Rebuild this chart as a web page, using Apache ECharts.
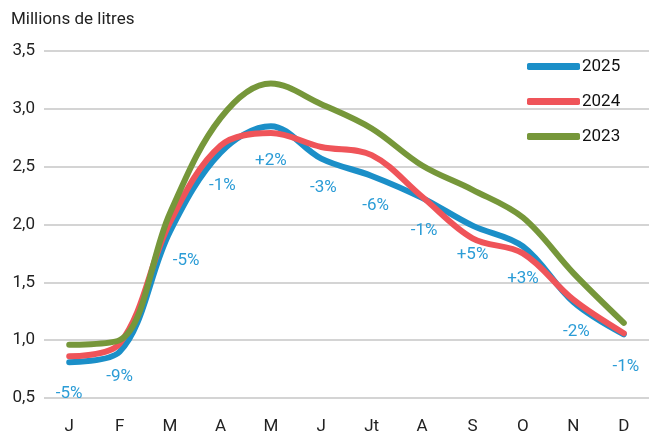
<!DOCTYPE html>
<html>
<head>
<meta charset="utf-8">
<script src="https://cdn.jsdelivr.net/npm/echarts@6/dist/echarts.min.js"></script>
<style>
  html, body { margin: 0; padding: 0; background: #ffffff; }
  #chart { width: 649px; height: 440px; }
</style>
</head>
<body>
<div id="chart"></div>
<script>
const months = ['J', 'F', 'M', 'A', 'M', 'J', 'Jt', 'A', 'S', 'O', 'N', 'D']
const y2025 = [0.81, 0.90, 1.94, 2.62, 2.85, 2.57, 2.42, 2.23, 1.99, 1.81, 1.33, 1.05]
const y2024 = [0.86, 0.97, 2.02, 2.68, 2.79, 2.67, 2.60, 2.24, 1.88, 1.75, 1.35, 1.06]
const y2023 = [0.96, 1.00, 2.10, 2.92, 3.22, 3.04, 2.83, 2.51, 2.30, 2.06, 1.58, 1.15]
const changes = ['-5%', '-9%', '-5%', '-1%', '+2%', '-3%', '-6%', '-1%', '+5%', '+3%', '-2%', '-1%']
const yTicks = [0.5, 1.0, 1.5, 2.0, 2.5, 3.0, 3.5]

const FONT = '"Liberation Sans Narrow", "Roboto", Arial, sans-serif'
// small sideways nudges of the % labels, as in the source chart
const labelShiftX = [0, 0, 16, 2, 0, 2, 4, 2, 0, 0, 3, 2]
const labelShiftY = [2, -4, 0, 3, 5, 0, 0, 3, 0, 3, 0, 3]

const chart = echarts.init(document.getElementById('chart'))

function lineSeries(name, data, color, labels) {
  const s = {
    name,
    type: 'line',
    smooth: 0.35,
    symbol: 'circle',
    symbolSize: 0,
    showSymbol: true,
    data,
    lineStyle: { width: 6, color, cap: 'round', join: 'round' },
    itemStyle: { color }
  }
  if (labels) {
    s.data = data.map((v, i) => ({
      value: v,
      label: {
        show: true,
        position: 'bottom',
        distance: 21,
        offset: [labelShiftX[i], labelShiftY[i]],
        formatter: changes[i],
        color: '#2b9cd6',
        fontSize: 17,
        fontFamily: FONT
      }
    }))
  }
  return s
}

chart.setOption({
  backgroundColor: '#ffffff',
  animation: false,
  textStyle: { fontFamily: FONT },
  title: {
    text: 'Millions de litres',
    left: 6,
    top: 6,
    textStyle: { fontSize: 17, fontWeight: 'normal', color: '#222222', fontFamily: FONT }
  },
  legend: {
    orient: 'vertical',
    left: 522,
    top: 53,
    itemWidth: 53,
    itemHeight: 7,
    itemGap: 18,
    icon: 'roundRect',
    textStyle: { fontSize: 17, color: '#111111', fontFamily: FONT, padding: [0, 0, 0, -3] },
    data: ['2025', '2024', '2023']
  },
  grid: { left: 44, right: 0, top: 51, bottom: 42 },
  xAxis: {
    type: 'category',
    data: months,
    boundaryGap: true,
    axisLine: { show: false },
    axisTick: { show: false },
    axisLabel: { color: '#222222', fontSize: 17, margin: 20, fontFamily: FONT }
  },
  yAxis: {
    type: 'value',
    min: yTicks[0],
    max: yTicks[yTicks.length - 1],
    interval: 0.5,
    axisLine: { show: false },
    axisTick: { show: false },
    axisLabel: {
      color: '#222222',
      fontSize: 17,
      margin: 9,
      fontFamily: FONT,
      formatter: v => v.toFixed(1).replace('.', ',')
    },
    splitLine: { lineStyle: { color: '#d4d4d4', width: 2 } }
  },
  series: [
    lineSeries('2025', y2025, '#1b8fc8', true),
    lineSeries('2024', y2024, '#ef5459', false),
    lineSeries('2023', y2023, '#76973a', false)
  ]
})
</script>
</body>
</html>
